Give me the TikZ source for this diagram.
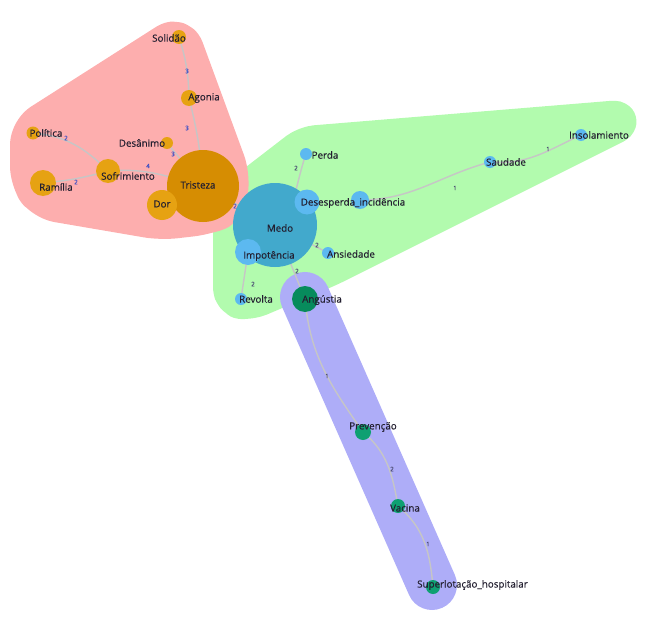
\documentclass[tikz,border=0pt]{standalone}
\usepackage{fontspec}
\setmainfont{Open Sans}
\newfontfamily\lblfont{Open Sans}[FakeBold=0.4]
\definecolor{pinkhull}{HTML}{FDAEAE}
\definecolor{greenhull}{HTML}{B2FBAE}
\definecolor{purplehull}{HTML}{AEADF8}
\definecolor{orangeA}{HTML}{D68D02}
\definecolor{orangeB}{HTML}{E6A212}
\definecolor{medoc}{HTML}{42A9CC}
\definecolor{bluec}{HTML}{5CB9F0}
\definecolor{darkgreen}{HTML}{078B5C}
\definecolor{midgreen}{HTML}{0FA072}
\definecolor{edgec}{HTML}{C6C6C6}
\definecolor{labelc}{HTML}{231F30}
\definecolor{elblpink}{HTML}{4051C4}
\definecolor{elblother}{HTML}{4A4A72}
\pgfdeclarelayer{hulls}
\pgfdeclarelayer{edges}
\pgfsetlayers{hulls,edges,main}
\tikzset{
  nd/.style={circle,inner sep=0pt,minimum size=#1},
  lbl/.style={font=\lblfont\fontsize{9.8}{11}\selectfont,text=labelc,inner sep=0pt},
  elbl/.style={font=\lblfont\fontsize{6.2}{7}\selectfont,inner sep=0pt},
  edge/.style={draw=edgec,line width=1.4pt},
  hullshape/.style={fill=#1,draw=#1,line width=40pt,line join=round}
}
\begin{document}
\begin{tikzpicture}[x=1pt,y=-1pt]
\useasboundingbox (0,0) rectangle (654,621);

% hulls
\begin{pgfonlayer}{hulls}
\path[hullshape=greenhull,rounded corners=10pt] (306,146) -- (622,120) -- (330,266) -- (250,300) -- (233,298) -- (233,226) -- (245,193) -- cycle;
\path[hullshape=pinkhull,rounded corners=14pt] (179,36) -- (230,175) -- (226,207) -- (205,215) -- (161,220) -- (44,200) -- (30,180) -- (30,131) -- cycle;
\draw[purplehull,line width=50pt,line cap=round] (305,297) -- (432,585);
\end{pgfonlayer}

% nodes (circles)
\node[nd=14,fill=orangeB] (solidao) at (179,37) {};
\node[nd=16,fill=orangeB] (agonia) at (189,98) {};
\node[nd=12,fill=orangeB] (desanimo) at (167,143) {};
\node[nd=13,fill=orangeB] (politica) at (33,133) {};
\node[nd=24,fill=orangeB] (sofrimiento) at (108,171) {};
\node[nd=26,fill=orangeB] (ramilia) at (43,183) {};
\node[nd=72,fill=orangeA] (tristeza) at (203,186) {};
\node[nd=30,fill=orangeB] (dor) at (162,205) {};
\node[nd=84,fill=medoc] (medo) at (275,225) {};
\node[nd=25,fill=bluec] (desp1) at (307,202) {};
\node[nd=18,fill=bluec] (desp2) at (360,200) {};
\node[nd=12,fill=bluec] (perda) at (306,154) {};
\node[nd=12,fill=bluec] (ansiedade) at (328,253) {};
\node[nd=26,fill=bluec] (impotencia) at (248,252) {};
\node[nd=12,fill=bluec] (revolta) at (241,299) {};
\node[nd=12,fill=bluec] (saudade) at (490,162) {};
\node[nd=12,fill=bluec] (insol) at (581,135) {};
\node[nd=26,fill=darkgreen] (angustia) at (305,299) {};
\node[nd=16,fill=midgreen] (prevencao) at (363,432) {};
\node[nd=14,fill=midgreen] (vacina) at (398,506) {};
\node[nd=14,fill=midgreen] (superlot) at (433,587) {};

% edges
\begin{pgfonlayer}{edges}
\draw[edge] (solidao.center) to[bend left=8] (agonia.center);
\draw[edge] (agonia.center) to[bend left=5] (tristeza.center);
\draw[edge] (desanimo.center) -- (tristeza.center);
\draw[edge] (politica.center) to[out=-5,in=135] (sofrimiento.center);
\draw[edge] (sofrimiento.center) to[out=5,in=165] (tristeza.center);
\draw[edge] (ramilia.center) to[bend right=5] (sofrimiento.center);
\draw[edge] (tristeza.center) -- (medo.center);
\draw[edge] (medo.center) to[out=-70,in=250] (perda.center);
\draw[edge] (desp2.center) to[out=0,in=195] (saudade.center);
\draw[edge] (saudade.center) to[out=-5,in=205] (insol.center);
\draw[edge] (medo.center) -- (ansiedade.center);
\draw[edge] (impotencia.center) -- (revolta.center);
\draw[edge] (medo.center) -- (angustia.center);
\draw[edge] (angustia.center) to[out=-85,in=125] (prevencao.center);
\draw[edge] (prevencao.center) to[out=-40,in=100] (vacina.center);
\draw[edge] (vacina.center) to[out=-40,in=95] (superlot.center);
\end{pgfonlayer}

% node labels
\node[lbl] (lsolidao) at (169,38) {Solidão};
\node[lbl] (lagonia) at (204,98) {Agonia};
\node[lbl] (ldesanimo) at (142,143) {Desânimo};
\node[lbl] (lpolitica) at (46,133) {Política};
\node[lbl] (lsofrimiento) at (128,176) {Sofrimiento};
\node[lbl] (lramilia) at (56,187) {Ramília};
\node[lbl] (ltristeza) at (198,185) {Tristeza};
\node[lbl] (ldor) at (162,204) {Dor};
\node[lbl] (lmedo) at (280,228) {Medo};
\node[lbl] (ldesp) at (353,203) {Desesperda\_incidência};
\node[lbl] (lperda) at (325,155) {Perda};
\node[lbl] (lansiedade) at (351,254) {Ansiedade};
\node[lbl] (limpotencia) at (269,256) {Impotência};
\node[lbl] (lrevolta) at (256,299) {Revolta};
\node[lbl] (lsaudade) at (506,162) {Saudade};
\node[lbl] (linsol) at (599,135) {Insolamiento};
\node[lbl] (langustia) at (322,300) {Angústia};
\node[lbl] (lprevencao) at (373,427) {Prevenção};
\node[lbl] (lvacina) at (405,508) {Vacina};
\node[lbl,anchor=west] (lsuperlot) at (417,585) {Superlotação\_hospitalar};

% edge labels
\node[elbl,text=elblpink] (e1) at (187,71) {3};
\node[elbl,text=elblpink] (e2) at (187,128) {3};
\node[elbl,text=elblpink] (e3) at (173,154) {3};
\node[elbl,text=elblpink] (e4) at (66,138) {2};
\node[elbl,text=elblpink] (e5) at (148,166) {4};
\node[elbl,text=elblpink] (e6) at (76,182) {2};
\node[elbl,text=elblpink] (e7) at (235,206) {2};
\node[elbl,text=elblother] (e8) at (296,168) {2};
\node[elbl,text=elblother] (e9) at (455,188) {1};
\node[elbl,text=elblother] (e10) at (548,149) {1};
\node[elbl,text=elblother] (e11) at (317,245) {2};
\node[elbl,text=elblother] (e12) at (253,284) {2};
\node[elbl,text=elblother] (e13) at (297,271) {2};
\node[elbl,text=elblother] (e14) at (327,376) {1};
\node[elbl,text=elblother] (e15) at (392,469) {2};
\node[elbl,text=elblother] (e16) at (428,544) {1};
\end{tikzpicture}
\end{document}
